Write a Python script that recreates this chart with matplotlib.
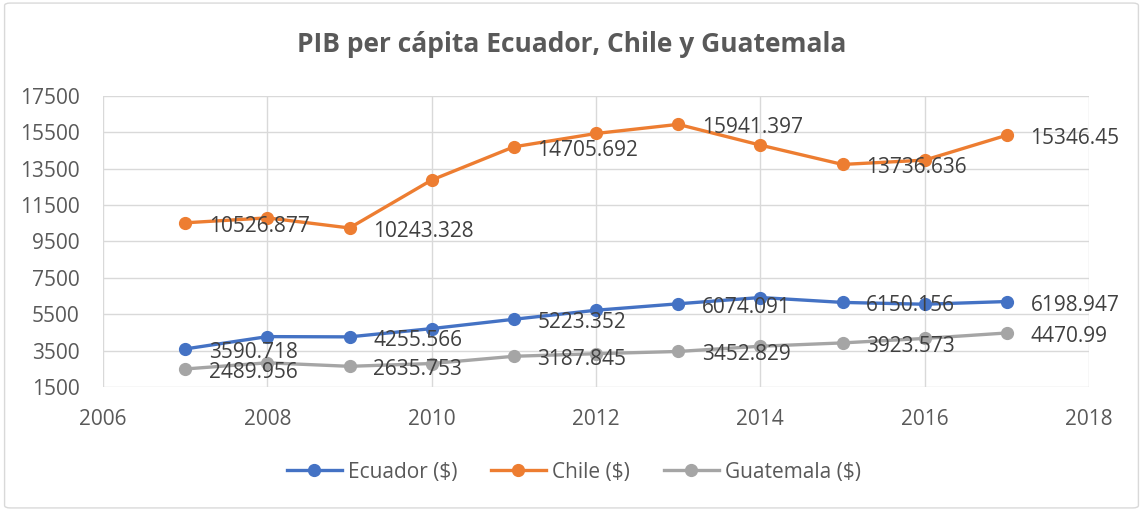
import matplotlib.pyplot as plt
from matplotlib.patches import FancyBboxPatch

years = [2007, 2008, 2009, 2010, 2011, 2012, 2013, 2014, 2015, 2016, 2017]
ecuador = [3590.718, 4270, 4255.566, 4710, 5223.352, 5720, 6074.091, 6420, 6150.156, 6050, 6198.947]
chile = [10526.877, 10800, 10243.328, 12880, 14705.692, 15440, 15941.397, 14800, 13736.636, 13975, 15346.45]
guatemala = [2489.956, 2830, 2635.753, 2790, 3187.845, 3330, 3452.829, 3740, 3923.573, 4170, 4470.99]

# data labels only on odd years, as in the original
label_years = [2007, 2009, 2011, 2013, 2015, 2017]
ecuador_labels = ['3590.718', '4255.566', '5223.352', '6074.091', '6150.156', '6198.947']
chile_labels = ['10526.877', '10243.328', '14705.692', '15941.397', '13736.636', '15346.45']
guatemala_labels = ['2489.956', '2635.753', '3187.845', '3452.829', '3923.573', '4470.99']

series = [
    ('Ecuador ($)', ecuador, ecuador_labels, '#4472C4'),
    ('Chile ($)', chile, chile_labels, '#ED7D31'),
    ('Guatemala ($)', guatemala, guatemala_labels, '#A5A5A5'),
]

plt.rcParams['font.family'] = ['Open Sans', 'DejaVu Sans']

fig = plt.figure(figsize=(11.43, 5.11), dpi=100)
ax = fig.add_axes([0.0901, 0.2427, 0.8627, 0.5694])

border = FancyBboxPatch((0.004, 0.006), 0.992, 0.988, boxstyle='round,pad=0,rounding_size=0.005',
                        transform=fig.transFigure, fill=False, edgecolor='#d9d9d9', linewidth=1)
fig.patches.append(border)

for name, vals, labels, color in series:
    ax.plot(years, vals, color=color, linewidth=2.4, marker='o', markersize=8.5, label=name, zorder=3)
    for yr, txt in zip(label_years, labels):
        v = vals[years.index(yr)]
        ax.annotate(txt, (yr, v), xytext=(17, -2.5), textcoords='offset points',
                    ha='left', va='center', fontsize=15, color='#404040', zorder=4)

ax.set_xlim(2006, 2018)
ax.set_ylim(1500, 17500)
ax.set_xticks(range(2006, 2019, 2))
ax.set_yticks(range(1500, 17501, 2000))
ax.grid(True, color='#d9d9d9', linewidth=1)
ax.set_axisbelow(True)
for s in ax.spines.values():
    s.set_visible(False)
ax.tick_params(length=0, labelsize=15, labelcolor='#595959')
ax.tick_params(axis='x', pad=16)
ax.tick_params(axis='y', pad=17)

fig.text(0.5, 0.912, 'PIB per cápita Ecuador, Chile y Guatemala', ha='center', va='center',
         fontsize=19, fontweight='bold', color='#595959')

leg = fig.legend(loc='center', bbox_to_anchor=(0.502, 0.076), ncol=3, frameon=False,
                 fontsize=15, handlelength=2.65, columnspacing=1.6, handletextpad=0.3)
for t in leg.get_texts():
    t.set_color('#595959')

fig.savefig('out.png', dpi=100)
